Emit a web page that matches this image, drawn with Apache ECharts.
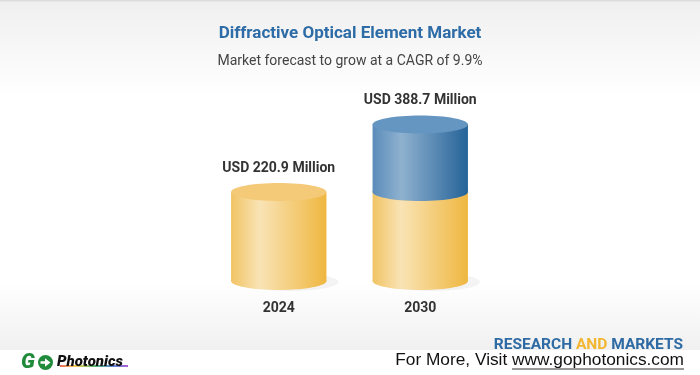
<!DOCTYPE html>
<html>
<head>
<meta charset="utf-8">
<script src="https://cdn.jsdelivr.net/npm/echarts@6/dist/echarts.min.js"></script>
<style>html,body{margin:0;padding:0;background:#fff}#c{width:700px;height:375px}</style>
</head>
<body>
<div id="c"></div>
<script>
const categories = ['2024', '2030'];
const baseValues = [220.9, 220.9];
const totalValues = [220.9, 388.7];
const valueLabels = ['USD 220.9 Million', 'USD 388.7 Million'];
const titleText = 'Diffractive Optical Element Market';
const subtitleText = 'Market forecast to grow at a CAGR of 9.9%';

const chart = echarts.init(document.getElementById('c'), null, {renderer: 'canvas'});

function hGrad(stops) {
  return new echarts.graphic.LinearGradient(0, 0, 1, 0, stops);
}
const yellowBody = [{offset: 0, color: '#f1c464'}, {offset: 0.3, color: '#f9e3b5'}, {offset: 1, color: '#efb740'}];
const blueBody = [{offset: 0, color: '#5a8cba'}, {offset: 0.3, color: '#8fb1cf'}, {offset: 1, color: '#256398'}];
const RY = 9;

function cylinder(api, idx, from, to, bodyStops, capColor, label) {
  const pTop = api.coord([idx, to]);
  const pBot = api.coord([idx, from]);
  const band = api.size([1, 0])[0];
  const rx = band * 0.337;
  const cx = pTop[0];
  const children = [];
  if (from === 0) {
    children.push({
      type: 'ellipse', shape: {cx: cx + 12, cy: pBot[1] + 1, rx: rx, ry: RY},
      style: {fill: 'rgba(0,0,0,0.045)'}, z2: 0
    });
  }
  children.push({
    type: 'rect', shape: {x: cx - rx, y: pTop[1], width: rx * 2, height: pBot[1] - pTop[1]},
    style: {fill: hGrad(bodyStops)}, z2: 1
  });
  children.push({
    type: 'ellipse', shape: {cx: cx, cy: pBot[1], rx: rx, ry: RY},
    style: {fill: hGrad(bodyStops)}, z2: 1
  });
  children.push({
    type: 'ellipse', shape: {cx: cx, cy: pTop[1], rx: rx, ry: RY},
    style: {fill: capColor}, z2: 2
  });
  if (label) {
    children.push({
      type: 'text', x: cx, y: pTop[1] - 24, z2: 3,
      style: {text: label, fill: '#333', font: 'bold 14px Roboto', align: 'center', verticalAlign: 'middle'}
    });
  }
  return {type: 'group', children: children};
}

const yellowData = categories.map((c, i) => [i, 0, baseValues[i]]);
const blueData = categories.map((c, i) => [i, baseValues[i], totalValues[i]]);

chart.setOption({
  backgroundColor: '#ffffff',
  animation: false,
  title: [
    {text: titleText, left: 'center', top: 20, textStyle: {fontFamily: 'Roboto', fontWeight: 'bold', fontSize: 17, color: '#2d6ca6'}},
    {text: subtitleText, left: 'center', top: 49, textStyle: {fontFamily: 'Roboto', fontWeight: 'normal', fontSize: 14, color: '#444'}}
  ],
  grid: {left: 208, right: 209, top: 120, bottom: 94},
  xAxis: {
    type: 'category', data: categories,
    axisLine: {show: false}, axisTick: {show: false}, splitLine: {show: false},
    axisLabel: {margin: 20, fontFamily: 'Roboto', fontWeight: 'bold', fontSize: 14, color: '#333'}
  },
  yAxis: {type: 'value', min: 0, max: 400, show: false},
  graphic: [
    {type: 'rect', z: -10, shape: {x: 0, y: 0, width: 700, height: 95},
      style: {fill: new echarts.graphic.LinearGradient(0, 0, 0, 1, [{offset: 0, color: '#efefef'}, {offset: 1, color: '#ffffff'}])}},
    {type: 'rect', z: -10, shape: {x: 0, y: 0, width: 700, height: 1.5}, style: {fill: '#dddddd'}},
    {type: 'rect', z: -10, shape: {x: 0, y: 283, width: 700, height: 67},
      style: {fill: new echarts.graphic.LinearGradient(0, 0, 0, 1, [{offset: 0, color: '#ffffff'}, {offset: 1, color: '#f0f0f0'}])}},
    {type: 'text', x: 683, y: 345, z: 10,
      style: {text: '{a|RESEARCH }{b|AND }{a|MARKETS}', font: 'bold 15.5px Roboto', align: 'right', verticalAlign: 'middle',
        rich: {a: {fill: '#2e6aa3', font: 'bold 15.5px Roboto'}, b: {fill: '#f2b630', font: 'bold 15.5px Roboto'}}}},
    {type: 'text', x: 684, y: 360, z: 10,
      style: {text: 'For More, Visit www.gophotonics.com', fill: '#111', font: '17.3px "Liberation Sans"', align: 'right', verticalAlign: 'middle'}},
    {type: 'line', z: 10, shape: {x1: 512, y1: 369, x2: 684, y2: 369}, style: {stroke: '#333', lineWidth: 1}},
    {type: 'text', x: 21, y: 363, z: 10,
      style: {text: 'G', fill: '#1f8b3b', font: 'italic 900 21px Roboto', verticalAlign: 'middle'}},
    {type: 'circle', z: 10, shape: {cx: 45.5, cy: 362.5, r: 7.5}, style: {fill: '#1f8b3b'}},
    {type: 'polygon', z: 11, shape: {points: [[40.5, 361.2], [45, 361.2], [45, 358.3], [50.5, 362.5], [45, 366.7], [45, 363.8], [40.5, 363.8]]}, style: {fill: '#fff'}},
    {type: 'line', z: 10, shape: {x1: 60, y1: 366, x2: 128, y2: 366},
      style: {lineWidth: 1.5, stroke: new echarts.graphic.LinearGradient(0, 0, 1, 0, [
        {offset: 0, color: '#e02020'}, {offset: 0.25, color: '#f0c020'}, {offset: 0.5, color: '#20a040'}, {offset: 0.75, color: '#2060d0'}, {offset: 1, color: '#a020c0'}])}},
    {type: 'text', x: 57, y: 362.5, z: 11,
      style: {text: 'Photonics', fill: '#111', font: 'italic 900 15px Roboto', verticalAlign: 'middle'}}
  ],
  series: [
    {
      type: 'custom', data: yellowData, z: 2,
      renderItem: function (params, api) {
        const i = params.dataIndex;
        return cylinder(api, i, api.value(1), api.value(2), yellowBody, '#f4ca78',
          totalValues[i] === baseValues[i] ? valueLabels[i] : null);
      }
    },
    {
      type: 'custom', data: blueData, z: 3,
      renderItem: function (params, api) {
        const i = params.dataIndex;
        if (api.value(2) <= api.value(1)) return null;
        return cylinder(api, i, api.value(1), api.value(2), blueBody, '#6595c1', valueLabels[i]);
      }
    }
  ]
});
</script>
</body>
</html>
